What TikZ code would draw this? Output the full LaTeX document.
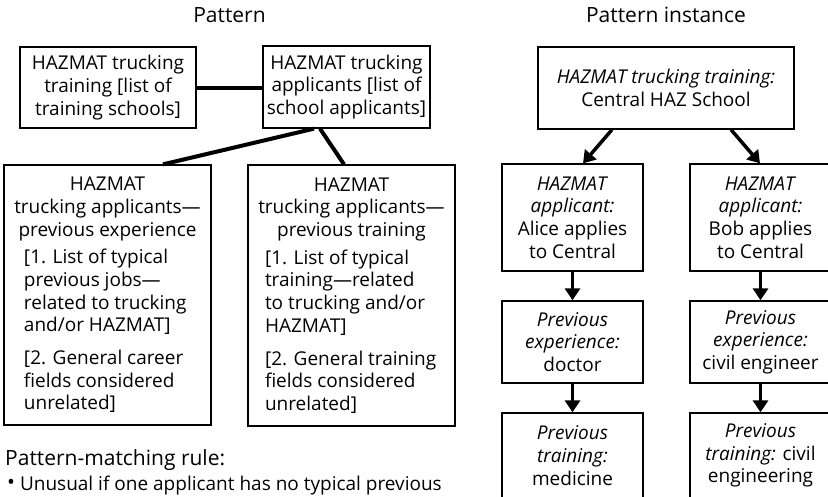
\documentclass[tikz,border=0pt]{standalone}
\usepackage{fontspec}
\setmainfont{Open Sans}
\usetikzlibrary{arrows.meta}
\newcommand\boxtext{\fontsize{19}{22.7}\selectfont}
\newcommand\headtext{\fontsize{21}{25}\selectfont}
\newcommand\itembullet{{\fontsize{21}{21}\selectfont\raisebox{0.6pt}{•}}}
\begin{document}
\begin{tikzpicture}[x=1pt,y=-1pt,
  box/.style={draw, line width=1.3pt, inner sep=0pt, align=center, font=\boxtext},
  link/.style={line width=4pt},
  flow/.style={line width=3.5pt, -{Triangle[width=15pt,length=12pt]}},
  heading/.style={anchor=base, inner sep=0pt, font=\headtext},
]
\useasboundingbox (0,0) rectangle (828,496);
\fill[white] (0,0) rectangle (828,496);
\clip (0,0) rectangle (828,496);

% column headings
\node[heading] (hp) at (229.5,22.7) {Pattern};
\node[heading] (hi) at (666,22.7) {Pattern instance};

% pattern side
\node[box, minimum width=176pt, minimum height=81pt] (A) at (108,87.5)
  {HAZMAT trucking\\training [list of\\training schools]};
\node[box, minimum width=167pt, minimum height=82pt] (B) at (346.5,87)
  {HAZMAT trucking\\applicants [list of\\school applicants]};

\node[box, minimum width=207pt, minimum height=260pt] (C) at (107.5,295)
  {\parbox{199pt}{\centering HAZMAT\\trucking applicants—\\previous experience\par
   \vspace{5pt}\raggedright\leftskip=16pt
   [1. List of typical\\previous jobs—\\related to trucking\\and/or HAZMAT]\par
   \vspace{10pt}
   [2. General career\\fields considered\\unrelated]}};
\node[box, minimum width=207pt, minimum height=261pt] (D) at (351.5,295.5)
  {\parbox{199pt}{\centering HAZMAT\\trucking applicants—\\previous training\par
   \vspace{5pt}\raggedright\leftskip=13pt
   [1. List of typical\\training—related\\to trucking and/or\\HAZMAT]\par
   \vspace{10pt}
   [2. General training\\fields considered\\unrelated]}};

\draw[link] (A.east) -- (A.east -| B.west);
\draw[link] ([xshift=-32.5pt]B.south) -- ([xshift=55.5pt]C.north);
\draw[link] ([xshift=-26.5pt]B.south) -- ([xshift=-7.5pt]D.north);

% pattern instance side
\node[box, minimum width=256pt, minimum height=82pt] (E) at (666,88)
  {\textit{HAZMAT trucking training:}\\Central HAZ School};
\node[box, minimum width=141pt, minimum height=107pt] (F) at (572.5,217.5)
  {\textit{HAZMAT}\\\textit{applicant:}\\Alice applies\\to Central};
\node[box, minimum width=141pt, minimum height=107pt] (G) at (760.5,217.5)
  {\textit{HAZMAT}\\\textit{applicant:}\\Bob applies\\to Central};
\node[box, minimum width=141pt, minimum height=82pt] (H) at (572.5,342)
  {\textit{Previous}\\\textit{experience:}\\doctor};
\node[box, minimum width=141pt, minimum height=82pt] (I) at (760.5,342)
  {\textit{Previous}\\\textit{experience:}\\civil engineer};
\node[box, minimum width=141pt, minimum height=85pt] (J) at (572.5,455.5)
  {\textit{Previous}\\\textit{training:}\\medicine};
\node[box, minimum width=141pt, minimum height=85pt] (K) at (760.5,455.5)
  {\textit{Previous}\\\textit{training:} civil\\engineering};

\draw[flow] ([xshift=-54pt]E.south) -- ([xshift=10.5pt]F.north);
\draw[flow] ([xshift=65pt]E.south) -- ([xshift=-0.5pt]G.north);
\draw[flow] (F.south) -- (H.north);
\draw[flow] (H.south) -- (J.north);
\draw[flow] (G.south) -- (I.north);
\draw[flow] (I.south) -- (K.north);

% rule text
\node[anchor=base west, inner sep=0pt, font=\headtext] (rule) at (5,465)
  {Pattern-matching rule:};
\node[anchor=base west, inner sep=0pt, font=\boxtext] (item) at (7,490)
  {\itembullet{} Unusual if one applicant has no typical previous};
\end{tikzpicture}
\end{document}
